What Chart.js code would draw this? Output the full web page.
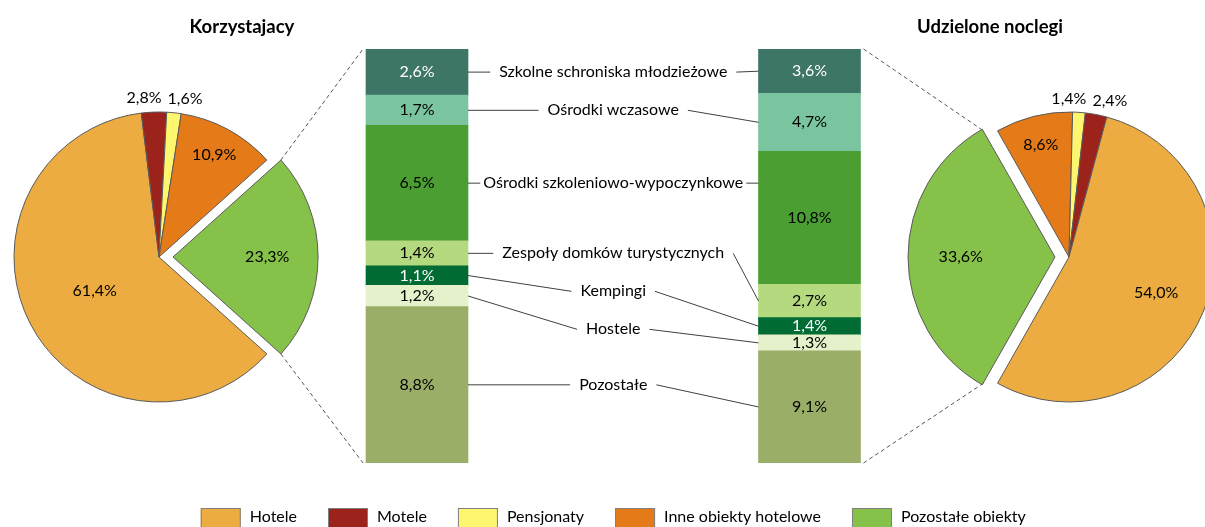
<!DOCTYPE html>
<html lang="pl">
<head>
<meta charset="utf-8">
<title>Korzystający i udzielone noclegi</title>
<script src="https://cdn.jsdelivr.net/npm/chart.js@4.4.1/dist/chart.umd.min.js"></script>
<style>
    html, body { margin: 0; padding: 0; background: #fff; overflow: hidden; }
    #wrap { position: relative; width: 1205px; height: 527px; overflow: hidden; }
    #wrap canvas { position: absolute; }
    #barChart { left: 0; top: 0; }
    #pieL { left: -21px; top: 77px; }
    #pieR { left: 889px; top: 77px; }
</style>
</head>
<body>
<div id="wrap">
    <canvas id="barChart" width="1205" height="527"></canvas>
    <canvas id="pieL" width="360" height="360"></canvas>
    <canvas id="pieR" width="360" height="360"></canvas>
</div>
<script>
// 1. Dane (udział w %)
const tytuly = ['Korzystajacy', 'Udzielone noclegi'];
const typyObiektow = ['Hotele', 'Motele', 'Pensjonaty', 'Inne obiekty hotelowe', 'Pozostałe obiekty'];
const korzystajacy = [61.4, 2.8, 1.6, 10.9, 23.3];
const noclegi = [54.0, 2.4, 1.4, 8.6, 33.6];

// rozbicie "Pozostałe obiekty" (od góry słupka do dołu)
const pozostaleTypy = [
    'Szkolne schroniska młodzieżowe', 'Ośrodki wczasowe', 'Ośrodki szkoleniowo-wypoczynkowe',
    'Zespoły domków turystycznych', 'Kempingi', 'Hostele', 'Pozostałe'
];
const pozostaleKorzystajacy = [2.6, 1.7, 6.5, 1.4, 1.1, 1.2, 8.8];
const pozostaleNoclegi = [3.6, 4.7, 10.8, 2.7, 1.4, 1.3, 9.1];

// 2. Kolory i czcionki
const KOLORY_KOLA = ['#ECAC41', '#9C231C', '#FFF66F', '#E57A19', '#86C24A'];
const KOLORY_SLUPKOW = ['#3D7566', '#7AC59F', '#4A9E32', '#B4D97E', '#006B33', '#E4F1CB', '#9BAE68'];
const BIALY_TEKST = [true, false, false, false, true, false, false];
const FONT = '16px Lato';
const FONT_TYTUL = 'bold 18.5px Lato';
const LINIA = '#404040';
// Chart.js v4 przesuwa wycinek o offset/4 pikseli
const WYSUNIECIE = 14;

const suma = arr => arr.reduce((a, b) => a + b, 0);
const fmt = v => v.toFixed(1).replace('.', ',') + '%';

/**
 * Etykiety procentowe na wykresach kołowych
 */
const etykietyKola = {
    id: 'etykietyKola',
    afterDatasetsDraw(chart) {
        const ctx = chart.ctx;
        const meta = chart.getDatasetMeta(0);
        const wartosci = chart.data.datasets[0].data;
        const razem = suma(wartosci);
        const zewnetrzne = [];

        ctx.save();
        ctx.font = FONT;
        ctx.fillStyle = '#000';
        ctx.textAlign = 'center';
        ctx.textBaseline = 'middle';

        meta.data.forEach((arc, i) => {
            const p = arc.getProps(['x', 'y', 'startAngle', 'endAngle', 'outerRadius'], true);
            const mid = (p.startAngle + p.endAngle) / 2;
            const off = (arc.options.offset || 0) / 4;
            const cx = p.x + Math.cos(mid) * off;
            const cy = p.y + Math.sin(mid) * off;
            const udzial = wartosci[i] / razem * 100;

            if (udzial < 3) {
                const r = p.outerRadius + 14;
                zewnetrzne.push({ t: fmt(wartosci[i]), x: cx + Math.cos(mid) * r, y: cy + Math.sin(mid) * r });
            } else {
                const f = udzial < 15 ? 0.8 : (udzial > 60 ? 0.5 : 0.65);
                const r = p.outerRadius * f;
                ctx.fillText(fmt(wartosci[i]), cx + Math.cos(mid) * r, cy + Math.sin(mid) * r);
            }
        });

        // rozsuwanie małych etykiet, żeby na siebie nie nachodziły
        zewnetrzne.sort((a, b) => a.x - b.x);
        for (let i = 1; i < zewnetrzne.length; i++) {
            const a = zewnetrzne[i - 1], b = zewnetrzne[i];
            const potrzeba = (ctx.measureText(a.t).width + ctx.measureText(b.t).width) / 2 + 6;
            const d = b.x - a.x;
            if (d < potrzeba) {
                a.x -= (potrzeba - d) / 2;
                b.x += (potrzeba - d) / 2;
            }
        }
        zewnetrzne.forEach(e => ctx.fillText(e.t, e.x, e.y));
        ctx.restore();
    }
};

/**
 * Wykres kołowy z wysuniętym wycinkiem "Pozostałe obiekty"
 */
function utworzKolo(canvasId, wartosci, odwrotnie, katWysuniecia) {
    let etykiety = typyObiektow.slice();
    let dane = wartosci.slice();
    let kolory = KOLORY_KOLA.slice();
    if (odwrotnie) {
        etykiety.reverse(); dane.reverse(); kolory.reverse();
    }
    const idx = etykiety.indexOf('Pozostałe obiekty');
    const przed = suma(dane.slice(0, idx));
    const rotacja = katWysuniecia - (przed + dane[idx] / 2) / suma(dane) * 360;

    return new Chart(document.getElementById(canvasId).getContext('2d'), {
        type: 'pie',
        data: {
            labels: etykiety,
            datasets: [{
                data: dane,
                backgroundColor: kolory,
                borderColor: '#5a5a5a',
                borderWidth: 1,
                offset: ctx => ctx.dataIndex === idx ? WYSUNIECIE * 4 : 0
            }]
        },
        options: {
            responsive: false,
            animation: false,
            events: [],
            radius: 145,
            rotation: rotacja,
            plugins: { legend: { display: false }, tooltip: { enabled: false } }
        },
        plugins: [etykietyKola]
    });
}

// 3. Koła: lewe zgodnie z kolejnością legendy, prawe odwrotnie (lustrzane)
const pieL = utworzKolo('pieL', korzystajacy, false, 90);
const pieR = utworzKolo('pieR', noclegi, true, 270);

/**
 * Narożniki wysuniętego wycinka w układzie strony
 */
function rogiWycinka(pie) {
    const idx = pie.data.labels.indexOf('Pozostałe obiekty');
    const arc = pie.getDatasetMeta(0).data[idx];
    const p = arc.getProps(['x', 'y', 'startAngle', 'endAngle', 'outerRadius'], true);
    const mid = (p.startAngle + p.endAngle) / 2;
    const off = (arc.options.offset || 0) / 4;
    const ox = pie.canvas.offsetLeft + p.x + Math.cos(mid) * off;
    const oy = pie.canvas.offsetTop + p.y + Math.sin(mid) * off;
    const a = { x: ox + Math.cos(p.startAngle) * p.outerRadius, y: oy + Math.sin(p.startAngle) * p.outerRadius };
    const b = { x: ox + Math.cos(p.endAngle) * p.outerRadius, y: oy + Math.sin(p.endAngle) * p.outerRadius };
    return a.y < b.y ? [a, b] : [b, a];
}

/**
 * Opisy słupków, linie odniesienia, łączniki, tytuły i legenda
 */
const opisySlupkow = {
    id: 'opisySlupkow',
    afterDatasetsDraw(chart) {
        const ctx = chart.ctx;
        const n = pozostaleTypy.length;
        const segment = (i, strona) => {
            const dsIndex = strona * n + (n - 1 - i);
            const el = chart.getDatasetMeta(dsIndex).data[strona];
            const top = Math.min(el.y, el.base), bottom = Math.max(el.y, el.base);
            return { top, bottom, c: (top + bottom) / 2, l: el.x - el.width / 2, r: el.x + el.width / 2, x: el.x };
        };

        ctx.save();
        ctx.font = FONT;
        ctx.textAlign = 'center';
        ctx.textBaseline = 'middle';

        // wartości w słupkach
        [pozostaleKorzystajacy, pozostaleNoclegi].forEach((arr, strona) => {
            arr.forEach((v, i) => {
                const s = segment(i, strona);
                ctx.fillStyle = BIALY_TEKST[i] ? '#fff' : '#000';
                ctx.fillText(fmt(v), s.x, s.c);
            });
        });

        // nazwy kategorii pomiędzy słupkami
        const lewy = segment(0, 0), prawy = segment(0, 1);
        const xMid = (lewy.r + prawy.l) / 2;
        let poprzednieY = -Infinity;
        ctx.strokeStyle = LINIA;
        ctx.lineWidth = 1;
        pozostaleTypy.forEach((txt, i) => {
            const sL = segment(i, 0), sR = segment(i, 1);
            const y = Math.max(sL.c, poprzednieY + 38);
            poprzednieY = y;
            const w = ctx.measureText(txt).width;
            const tL = xMid - w / 2, tR = xMid + w / 2;

            ctx.fillStyle = '#000';
            ctx.fillText(txt, xMid, y);

            const krotkaL = (tL - sL.r) < 25;
            const krotkaR = (sR.l - tR) < 25;
            const yL = krotkaL ? Math.min(Math.max(y, sL.top + 2), sL.bottom - 2) : sL.c;
            const yR = krotkaR ? Math.min(Math.max(y, sR.top + 2), sR.bottom - 2) : sR.c;

            ctx.beginPath();
            ctx.moveTo(sL.r, yL);
            ctx.lineTo(tL - (krotkaL ? 3 : 9), y);
            ctx.moveTo(tR + (krotkaR ? 3 : 9), y);
            ctx.lineTo(sR.l, yR);
            ctx.stroke();
        });

        // przerywane łączniki koło -> słupek
        const dolL = segment(n - 1, 0), dolR = segment(n - 1, 1);
        const [gL, dL] = rogiWycinka(pieL);
        const [gR, dR] = rogiWycinka(pieR);
        ctx.strokeStyle = '#555';
        ctx.setLineDash([4, 3]);
        ctx.beginPath();
        ctx.moveTo(gL.x, gL.y); ctx.lineTo(lewy.l - 3, lewy.top);
        ctx.moveTo(dL.x, dL.y); ctx.lineTo(dolL.l - 3, dolL.bottom);
        ctx.moveTo(prawy.r + 3, prawy.top); ctx.lineTo(gR.x, gR.y);
        ctx.moveTo(dolR.r + 3, dolR.bottom); ctx.lineTo(dR.x, dR.y);
        ctx.stroke();
        ctx.setLineDash([]);

        // tytuły
        ctx.font = FONT_TYTUL;
        ctx.fillStyle = '#000';
        ctx.fillText(tytuly[0], 242, 27);
        ctx.fillText(tytuly[1], 990, 27);

        // legenda
        ctx.font = FONT;
        ctx.textAlign = 'left';
        const szer = typyObiektow.map(t => ctx.measureText(t).width);
        const calosc = suma(szer) + typyObiektow.length * 49 + (typyObiektow.length - 1) * 31;
        let x = xMid - calosc / 2;
        typyObiektow.forEach((t, i) => {
            ctx.fillStyle = KOLORY_KOLA[i];
            ctx.fillRect(x, 508, 40, 20);
            ctx.strokeStyle = '#7f7f7f';
            ctx.strokeRect(x + 0.5, 508.5, 39, 20);
            ctx.fillStyle = '#000';
            ctx.fillText(t, x + 49, 517);
            x += 49 + szer[i] + 31;
        });
        ctx.restore();
    }
};

// 4. Słupki skumulowane: każdy słupek na własnej osi (100% = udział pozostałych obiektów)
const zestawy = [];
[pozostaleKorzystajacy, pozostaleNoclegi].forEach((arr, strona) => {
    for (let i = pozostaleTypy.length - 1; i >= 0; i--) {
        zestawy.push({
            label: pozostaleTypy[i],
            data: strona === 0 ? [arr[i], null] : [null, arr[i]],
            backgroundColor: KOLORY_SLUPKOW[i],
            borderWidth: 0,
            barThickness: 102,
            yAxisID: strona === 0 ? 'yL' : 'yR'
        });
    }
});

new Chart(document.getElementById('barChart').getContext('2d'), {
    type: 'bar',
    data: { labels: tytuly, datasets: zestawy },
    options: {
        responsive: false,
        animation: false,
        events: [],
        layout: { padding: { left: 220.75, right: 199.25, top: 49, bottom: 64 } },
        scales: {
            x: { stacked: true, display: false },
            yL: { type: 'linear', stacked: true, display: false, min: 0, max: suma(pozostaleKorzystajacy) },
            yR: { type: 'linear', stacked: true, display: false, min: 0, max: suma(pozostaleNoclegi) }
        },
        plugins: { legend: { display: false }, tooltip: { enabled: false } }
    },
    plugins: [opisySlupkow]
});
</script>
</body>
</html>
